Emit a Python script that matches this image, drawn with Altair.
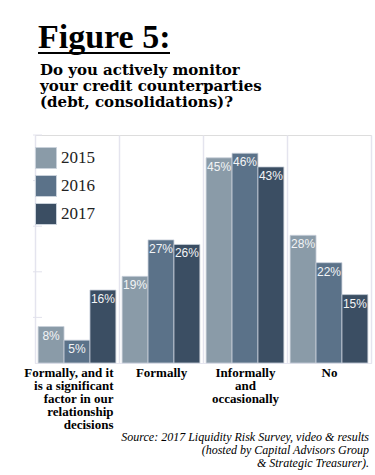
import altair as alt
import pandas as pd

# ---- data ----
categories = [
    "Formally, and it\nis a significant\nfactor in our\nrelationship\ndecisions",
    "Formally",
    "Informally\nand\noccasionally",
    "No",
]
years = ["2015", "2016", "2017"]
values_2015 = [8, 19, 45, 28]
values_2016 = [5, 27, 46, 22]
values_2017 = [16, 26, 43, 15]
colors = ["#8a9ba8", "#5b7289", "#3b4e63"]
y_ticks = [10, 20, 30, 40, 50]

fig_title = "Figure 5:"
question = "Do you actively monitor\nyour credit counterparties\n(debt, consolidations)?"
source = ("Source: 2017 Liquidity Risk Survey, video & results\n"
          "(hosted by Capital Advisors Group\n& Strategic Treasurer).")

rows = []
for yr, vals in zip(years, [values_2015, values_2016, values_2017]):
    for c, v in zip(categories, vals):
        rows.append({"category": c, "year": yr, "value": v})
df = pd.DataFrame(rows)

W, H = 336, 228

x_axis = alt.Axis(
    title=None,
    labelExpr="split(datum.label, '\\n')",
    labelAngle=0,
    labelFont="Liberation Serif",
    labelFontWeight="bold",
    labelFontSize=13,
    labelLineHeight=13,
    labelColor="black",
    labelPadding=3,
    labelLimit=0,
    labelOverlap=False,
    labelAlign={"condition": {"test": "datum.index == 0", "value": "right"}, "value": "center"},
    labelOffset={"condition": {"test": "datum.index == 0", "value": 36}, "value": 0},
    ticks=False,
    domain=True,
    domainColor="#e6e6f0",
    grid=True,
    gridColor="#e4e4ee",
    gridWidth=1.5,
    tickBand="extent",
)

x_enc = alt.X("category:N", sort=categories,
              scale=alt.Scale(paddingInner=0, paddingOuter=0), axis=x_axis)
xoff_enc = alt.XOffset("year:N", sort=years,
                       scale=alt.Scale(paddingInner=0, paddingOuter=0.12))
y_scale = alt.Scale(domain=[0, 50], nice=False, zero=True)
y_enc = alt.Y("value:Q", scale=y_scale, axis=None)

bars = alt.Chart(df).mark_bar(stroke="#c9d1da", strokeWidth=0.8).encode(
    x=x_enc,
    xOffset=xoff_enc,
    y=y_enc,
    color=alt.Color(
        "year:N",
        sort=years,
        scale=alt.Scale(domain=years, range=colors),
        legend=alt.Legend(
            title=None, orient="none", legendX=0, legendY=12, padding=0,
            symbolType="square", symbolSize=441,
            symbolStrokeColor="#c9d1da", symbolStrokeWidth=1,
            labelFont="Liberation Serif", labelFontSize=17, labelColor="#222222",
            rowPadding=2, labelOffset=4,
        ),
    ),
)

labels = alt.Chart(df).transform_calculate(
    label="datum.value + '%'"
).mark_text(
    baseline="top", dy=4, color="#f2f4f6",
    font="Liberation Sans", fontSize=12,
).encode(x=x_enc, xOffset=xoff_enc, y=y_enc, text="label:N")

stubs = alt.Chart(pd.DataFrame({"value": y_ticks})).mark_rule(
    color="#e2e2ec", strokeWidth=1
).encode(x=alt.value(-2), x2=alt.value(7), y=y_enc)

title_df = pd.DataFrame({"t": [fig_title]})
title = alt.Chart(title_df).mark_text(
    align="left", baseline="alphabetic", font="Liberation Serif",
    fontWeight="bold", fontSize=34, color="black"
).encode(text="t:N", x=alt.value(3), y=alt.value(-87))
underline = alt.Chart(title_df).mark_rule(color="black", strokeWidth=2).encode(
    x=alt.value(3), x2=alt.value(135), y=alt.value(-82)
)

sub = alt.Chart(pd.DataFrame({"t": [question]})).mark_text(
    align="left", baseline="alphabetic", font="DejaVu Serif",
    fontWeight="bold", fontSize=15, color="black", lineBreak="\n", lineHeight=16
).encode(text="t:N", x=alt.value(5), y=alt.value(-60))

src = alt.Chart(pd.DataFrame({"t": [source]})).mark_text(
    align="right", baseline="alphabetic", font="Liberation Serif",
    fontStyle="italic", fontSize=12, color="black", lineBreak="\n", lineHeight=13
).encode(text="t:N", x=alt.value(334), y=alt.value(306))

chart = alt.layer(stubs, bars, labels, title, underline, sub, src).properties(
    width=W, height=H,
    autosize=alt.AutoSizeParams(type="none"),
    padding={"left": 35, "top": 135, "right": 4, "bottom": 112},
).configure_view(stroke=None).configure(background="white")

chart.save("out.html", embed_options={"renderer": "svg", "actions": False})
